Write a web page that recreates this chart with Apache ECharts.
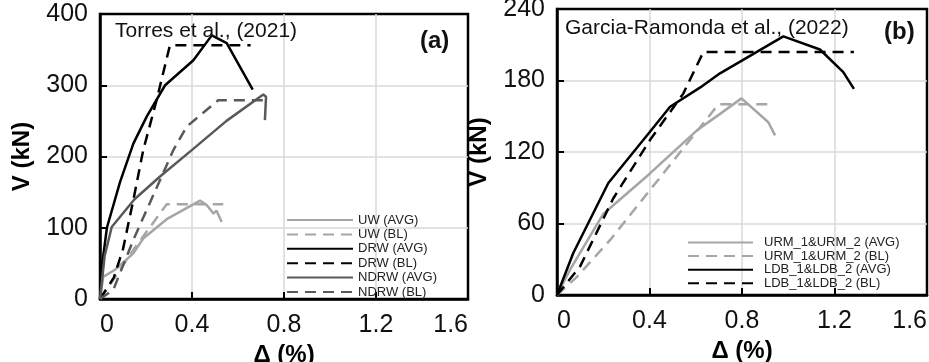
<!DOCTYPE html>
<html>
<head>
<meta charset="UTF-8">
<title>V - drift curves</title>
<style>
  html, body { margin: 0; padding: 0; background: #fff; }
  #chart { width: 929px; height: 362px; }
</style>
</head>
<body>
<div id="chart"></div>
<script src="https://cdn.jsdelivr.net/npm/echarts@6/dist/echarts.min.js"></script>
<script>
// tick labels
var xTicks = [0, 0.4, 0.8, 1.2, 1.6];
var yTicksA = [0, 100, 200, 300, 400];
var yTicksB = [0, 60, 120, 180, 240];

// (a) Torres et al. 2021 -- [drift %, V kN]
var uwAvg = [[0, 0], [0.014, 31], [0.065, 41], [0.145, 64], [0.188, 85], [0.29, 112], [0.435, 138], [0.464, 132], [0.493, 120], [0.507, 124], [0.529, 108]];
var uwBl = [[0, 0], [0.058, 27], [0.145, 69], [0.29, 133], [0.536, 133]];
var drwAvg = [[0, 0], [0.01, 50], [0.03, 100], [0.087, 164], [0.145, 218], [0.203, 256], [0.283, 300], [0.406, 335], [0.486, 370], [0.551, 359], [0.664, 294]];
var drwBl = [[0, 0], [0.06, 30], [0.1, 70], [0.145, 139], [0.188, 209], [0.246, 279], [0.304, 356], [0.655, 356]];
var ndrwAvg = [[0, 0], [0.02, 60], [0.051, 101], [0.15, 140], [0.261, 172], [0.399, 209], [0.55, 250], [0.71, 287], [0.722, 284], [0.717, 251]];
var ndrwBl = [[0, 0], [0.058, 13], [0.145, 83], [0.319, 209], [0.377, 242], [0.514, 279], [0.725, 279]];

// (b) Garcia-Ramonda et al. 2022
var urmAvg = [[0, 0], [0.056, 21], [0.2, 68], [0.402, 102], [0.604, 138], [0.705, 152], [0.798, 165], [0.914, 145], [0.943, 134]];
var urmBl = [[0, 0], [0.085, 15], [0.229, 46], [0.517, 116], [0.698, 160], [0.936, 160]];
var ldbAvg = [[0, 0], [0.07, 35], [0.222, 94], [0.402, 137], [0.489, 158], [0.618, 174], [0.705, 186], [0.979, 217], [1.137, 206], [1.238, 187], [1.284, 173]];
var ldbBl = [[0, 0], [0.1, 24], [0.243, 81], [0.402, 130], [0.546, 169], [0.633, 204], [1.284, 204]];

var namesA = ['UW (AVG)', 'UW (BL)', 'DRW (AVG)', 'DRW (BL)', 'NDRW (AVG)', 'NDRW (BL)'];
var namesB = ['URM_1&URM_2 (AVG)', 'URM_1&URM_2 (BL)', 'LDB_1&LDB_2 (AVG)', 'LDB_1&LDB_2 (BL)'];

var LIGHT = '#a6a6a6', DARK = '#595959', BLACK = '#000';
var FONT = 'Liberation Sans';
var DASH = [11, 7];

function ln(name, data, color, dashed, idx) {
  return {
    name: name, type: 'line', data: data,
    xAxisIndex: idx, yAxisIndex: idx,
    symbol: 'none', smooth: false, animation: false,
    lineStyle: { color: color, width: 2.5, type: dashed ? DASH : 'solid' },
    itemStyle: { color: color }
  };
}

function xAx(idx) {
  return {
    type: 'value', gridIndex: idx, min: 0, max: 1.6, interval: 0.4,
    name: 'Δ (%)', nameLocation: 'middle', nameGap: 41,
    nameTextStyle: { fontFamily: FONT, fontWeight: 'bold', fontSize: 24, color: '#000' },
    axisLine: { show: true, lineStyle: { color: '#000', width: 2.5 } },
    axisTick: { show: true, inside: true, length: 7, lineStyle: { color: '#000', width: 2 } },
    axisLabel: { fontFamily: FONT, fontSize: 25, color: '#111', margin: 14,
      alignMinLabel: 'left', alignMaxLabel: 'right',
      formatter: function (v) { return String(v); } },
    splitLine: { show: true, showMinLine: false, showMaxLine: false,
      lineStyle: { color: '#d9d9d9', width: 1.5 } }
  };
}

function yAx(idx, max, step) {
  return {
    type: 'value', gridIndex: idx, min: 0, max: max, interval: step,
    name: 'V (kN)', nameLocation: 'middle', nameGap: 66,
    nameTextStyle: { fontFamily: FONT, fontWeight: 'bold', fontSize: 24, color: '#000' },
    axisLine: { show: true, lineStyle: { color: '#000', width: 2.5 } },
    axisTick: { show: true, inside: true, length: 7, lineStyle: { color: '#000', width: 2 } },
    axisLabel: { fontFamily: FONT, fontSize: 25, color: '#111', margin: 12 },
    splitLine: { show: true, showMinLine: false, showMaxLine: false,
      lineStyle: { color: '#d9d9d9', width: 1.5 } }
  };
}

var chart = echarts.init(document.getElementById('chart'), null, { renderer: 'canvas' });

var option = {
  backgroundColor: '#fff',
  animation: false,
  title: [
    { text: 'Torres et al., (2021)', left: 115, top: 21, padding: 0,
      textStyle: { fontFamily: FONT, fontSize: 21, fontWeight: 'normal', color: '#111' } },
    { text: '(a)', left: 420, top: 29, padding: 0,
      textStyle: { fontFamily: FONT, fontSize: 24, fontWeight: 'bold', color: '#111' } },
    { text: 'Garcia-Ramonda et al., (2022)', left: 565, top: 18, padding: 0,
      textStyle: { fontFamily: FONT, fontSize: 21, fontWeight: 'normal', color: '#111' } },
    { text: '(b)', left: 884, top: 20, padding: 0,
      textStyle: { fontFamily: FONT, fontSize: 24, fontWeight: 'bold', color: '#111' } }
  ],
  legend: [
    { data: namesA, orient: 'vertical', left: 286, top: 213,
      itemWidth: 66, itemHeight: 14, itemGap: 0.4, padding: 0,
      itemStyle: { opacity: 0, borderWidth: 0 },
      textStyle: { fontFamily: FONT, fontSize: 13, color: '#222', lineHeight: 14 } },
    { data: namesB, orient: 'vertical', left: 687, top: 236,
      itemWidth: 65, itemHeight: 13, itemGap: 0.6, padding: 0,
      itemStyle: { opacity: 0, borderWidth: 0 },
      textStyle: { fontFamily: FONT, fontSize: 13, color: '#222', lineHeight: 13, padding: [0, 0, 0, 6] } }
  ],
  grid: [
    { left: 100, top: 14, width: 368, height: 285, outerBoundsMode: 'none', containLabel: false,
      show: true, borderColor: '#000', borderWidth: 2.5, backgroundColor: 'transparent' },
    { left: 557, top: 9, width: 370, height: 286, outerBoundsMode: 'none', containLabel: false,
      show: true, borderColor: '#000', borderWidth: 2.5, backgroundColor: 'transparent' }
  ],
  xAxis: [xAx(0), xAx(1)],
  yAxis: [yAx(0, 400, 100), yAx(1, 240, 60)],
  series: [
    ln(namesA[0], uwAvg, LIGHT, false, 0),
    ln(namesA[1], uwBl, LIGHT, true, 0),
    ln(namesA[2], drwAvg, BLACK, false, 0),
    ln(namesA[3], drwBl, BLACK, true, 0),
    ln(namesA[4], ndrwAvg, DARK, false, 0),
    ln(namesA[5], ndrwBl, DARK, true, 0),
    ln(namesB[0], urmAvg, LIGHT, false, 1),
    ln(namesB[1], urmBl, LIGHT, true, 1),
    ln(namesB[2], ldbAvg, BLACK, false, 1),
    ln(namesB[3], ldbBl, BLACK, true, 1)
  ]
};

chart.setOption(option);
</script>
</body>
</html>
